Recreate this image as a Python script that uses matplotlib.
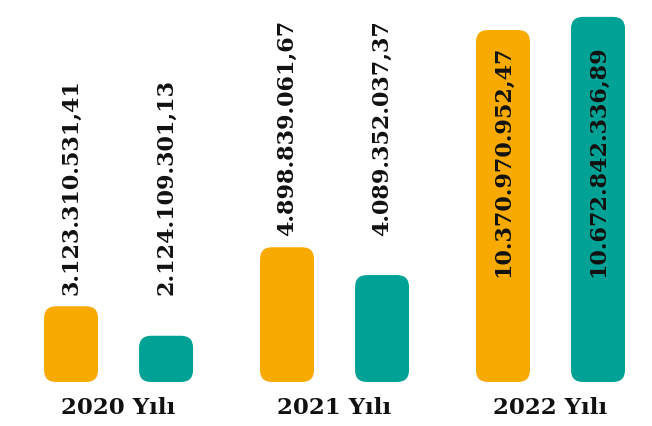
import numpy as np
import matplotlib.pyplot as plt
from matplotlib.patches import FancyBboxPatch

groups = ["2020 Yılı", "2021 Yılı", "2022 Yılı"]
series_a = [3123310531.41, 4898839061.67, 10370970952.47]   # orange
series_b = [2124109301.13, 4089352037.37, 10672842336.89]   # teal
labels_a = ["3.123.310.531,41", "4.898.839.061,67", "10.370.970.952,47"]
labels_b = ["2.124.109.301,13", "4.089.352.037,37", "10.672.842.336,89"]

orange = "#F8AA00"
teal = "#00A295"
ink = "#111111"

fig = plt.figure(figsize=(6.52, 4.26), dpi=100)
ax = fig.add_axes([0, 44 / 426, 1, 382 / 426])

# the original bars are not linear; a mild power scale follows them better
ax.set_yscale("function", functions=(lambda v: np.sign(v) * np.abs(v) ** 1.28,
                                     lambda v: np.sign(v) * np.abs(v) ** (1 / 1.28)))
ax.set_ylim(0, 11.056e9)
ax.set_xlim(-0.549, 2.47)
ax.axis("off")

x = np.arange(len(groups))
off = 0.22
w = 0.25
bars_a = ax.bar(x - off, series_a, width=w, color=orange)
bars_b = ax.bar(x + off, series_b, width=w, color=teal)

fig.canvas.draw()
W = fig.dpi * fig.get_figwidth()
H = fig.dpi * fig.get_figheight()
r = 12
for ba, bb_, la, lb in zip(bars_a, bars_b, labels_a, labels_b):
    exts = [ba.get_window_extent(), bb_.get_window_extent()]
    for b, e in zip((ba, bb_), exts):
        b.set_visible(False)
        fig.patches.append(FancyBboxPatch((e.x0 + r, e.y0 + r), e.width - 2 * r, e.height - 2 * r,
                                          boxstyle=f"round,pad={r}", fc=b.get_facecolor(), ec="none",
                                          transform=None, figure=fig))
    # labels of a group share one level
    if min(e.height for e in exts) > 300:
        ty = (min(e.y1 for e in exts) - 15) / H
        va = "top"
    else:
        ty = (max(e.y1 for e in exts) + 11) / H
        va = "bottom"
    for e, lab in zip(exts, (la, lb)):
        fig.text((e.x0 + e.x1) / 2 / W, ty, lab, rotation=90, ha="center", va=va,
                 fontsize=16, fontweight="bold", family="DejaVu Serif", color=ink)

for xi, g in zip(x, groups):
    ax.text(xi, -0.04, g, transform=ax.get_xaxis_transform(), ha="center", va="top",
            fontsize=16.5, fontweight="bold", family="DejaVu Serif", color=ink)

fig.savefig("out.png", dpi=100)
